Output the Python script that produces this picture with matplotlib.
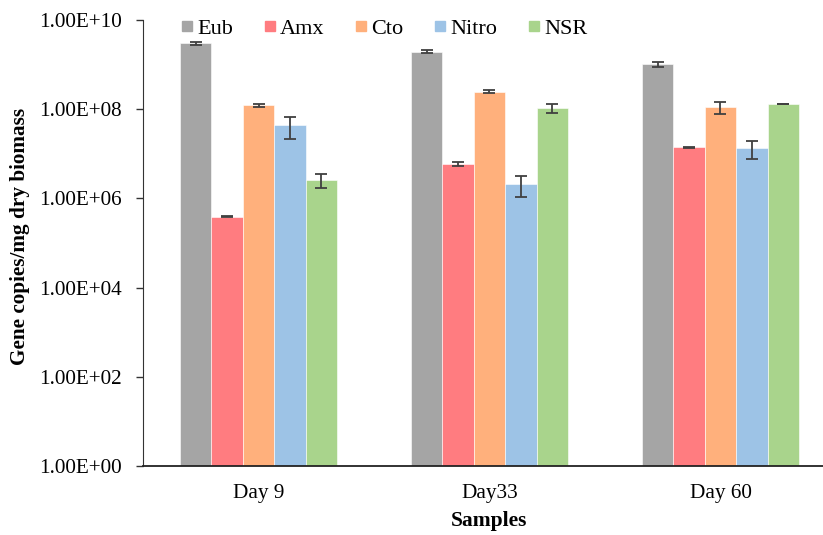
import matplotlib
matplotlib.use("Agg")
import matplotlib.pyplot as plt
import numpy as np
from matplotlib.lines import Line2D

plt.rcParams['font.family'] = ['Liberation Serif', 'DejaVu Serif']

samples = ["Day 9", "Day33", "Day 60"]
series = ["Eub", "Amx", "Cto", "Nitro", "NSR"]
colors = ["#A5A5A5", "#FF7C80", "#FFB07C", "#9DC3E6", "#A9D48C"]

eub = [3.0e9, 1.95e9, 1.02e9]
amx = [3.9e5, 5.9e6, 1.40e7]
cto = [1.22e8, 2.47e8, 1.12e8]
nitro = [4.4e7, 2.1e6, 1.35e7]
nsr = [2.6e6, 1.05e8, 1.31e8]

eub_err = [0.25e9, 0.17e9, 0.13e9]
amx_err = [0.1e5, 0.5e6, 0.2e6]
cto_err = [0.1e8, 0.2e8, 3.2e7]
nitro_err = [2.2e7, 1.0e6, 5.8e6]
nsr_err = [0.9e6, 2.4e7, 3e6]

values = [eub, amx, cto, nitro, nsr]
errors = [eub_err, amx_err, cto_err, nitro_err, nsr_err]

fig = plt.figure(figsize=(8.23, 5.35), dpi=100)
ax = fig.add_axes([143/823, 69/535, 693/823, 446/535])

x = np.arange(len(samples))
w = 0.136
for i, (name, vals, errs, c) in enumerate(zip(series, values, errors, colors)):
    pos = x + (i - 2) * w
    ax.bar(pos, vals, width=w, color=c, edgecolor='white', linewidth=0.4, label=name, zorder=2)
    ax.errorbar(pos, vals, yerr=errs, fmt='none', ecolor='#404040', elinewidth=1.3,
                capsize=4.5, capthick=1.3, zorder=3)

ax.set_yscale('log')
ax.set_ylim(1, 1e10)
ax.set_xlim(-0.5, 2.5)
ax.set_yticks([1e0, 1e2, 1e4, 1e6, 1e8, 1e10])
ax.set_yticklabels(["1.00E+00", "1.00E+02", "1.00E+04", "1.00E+06", "1.00E+08", "1.00E+10"])
ax.yaxis.set_minor_locator(matplotlib.ticker.NullLocator())
ax.set_xticks(x)
ax.set_xticklabels(samples)
ax.tick_params(axis='x', length=0, labelsize=15.3, pad=13)
ax.tick_params(axis='y', direction='out', length=5, width=1, labelsize=15.2, pad=10, color='#333333')

for s in ['top', 'right']:
    ax.spines[s].set_visible(False)
ax.spines['left'].set_color('#333333')
ax.spines['bottom'].set_color('#222222')
ax.spines['bottom'].set_linewidth(1.3)

ax.set_ylabel("Gene copies/mg dry biomass", fontsize=15.3, fontweight='bold')
ax.yaxis.set_label_coords(-0.163, 0.515)
ax.set_xlabel("Samples", fontsize=15.5, fontweight='bold', labelpad=6)

handles = [Line2D([], [], marker='s', linestyle='none', markersize=7.5, color=c,
                  markeredgecolor=c) for c in colors]
leg = ax.legend(handles, series, loc='upper left', bbox_to_anchor=(0.041, 1.0245), ncol=5,
                frameon=False, fontsize=16, handletextpad=0.15, columnspacing=1.36,
                handlelength=0.6, borderaxespad=0)

fig.savefig("out.png", dpi=100)
